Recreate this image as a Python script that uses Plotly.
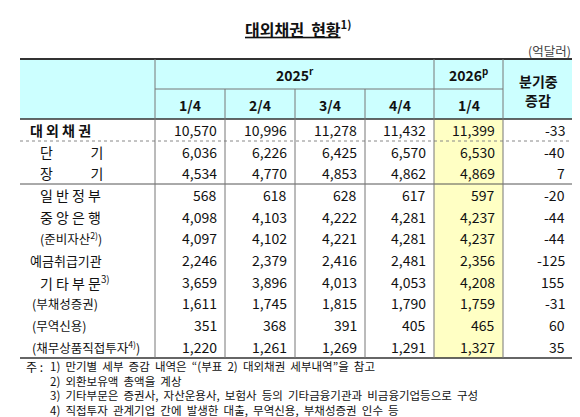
import plotly.graph_objects as go

# data
row_labels = ["대 외 채 권", "단            기", "장            기", "일 반 정 부", "중 앙 은 행",
              "(준비자산<sup>2)</sup>)", "예금취급기관", "기 타 부 문<sup>3)</sup>",
              "(부채성증권)", "(무역신용)", "(채무상품직접투자<sup>4)</sup>)"]
q1_2025 = [10570, 6036, 4534, 568, 4098, 4097, 2246, 3659, 1611, 351, 1220]
q2_2025 = [10996, 6226, 4770, 618, 4103, 4102, 2379, 3896, 1745, 368, 1261]
q3_2025 = [11278, 6425, 4853, 628, 4222, 4221, 2416, 4013, 1815, 391, 1269]
q4_2025 = [11432, 6570, 4862, 617, 4281, 4281, 2481, 4053, 1790, 405, 1291]
q1_2026 = [11399, 6530, 4869, 597, 4237, 4237, 2356, 4208, 1759, 465, 1327]
change = [-33, -40, 7, -20, -44, -44, -125, 155, -31, 60, 35]
quarters = ["1/4", "2/4", "3/4", "4/4", "1/4"]
notes = ["1)  만기별  세부  증감  내역은  “(부표  2)  대외채권  세부내역”을  참고",
         "2)  외환보유액  총액을  계상",
         "3)  기타부문은  증권사,  자산운용사,  보험사  등의  기타금융기관과  비금융기업등으로  구성",
         "4)  직접투자  관계기업  간에  발생한  대출,  무역신용,  부채성증권  인수  등"]

cols = [q1_2025, q2_2025, q3_2025, q4_2025, q1_2026, change]
xb = [12, 147, 217, 287, 357, 426, 495, 565]
row_y = [122, 144, 165, 187, 209, 230, 252, 274, 295, 317, 339]
label_x = [20, 30, 30, 30, 30, 30, 20, 30, 22, 22, 22]
label_size = [14, 14, 14, 14, 14, 12.5, 13, 14, 12.5, 12.5, 12.5]
FONT = "Noto Sans CJK KR"

fig = go.Figure()
shapes = []
ann = []

# fills
shapes.append(dict(type="rect", x0=xb[0], x1=xb[-1], y0=51, y1=111, fillcolor="#ccffff", line_width=0, layer="below"))
shapes.append(dict(type="rect", x0=xb[5], x1=xb[6], y0=111, y1=350, fillcolor="#ffffc4", line_width=0, layer="below"))

# horizontal lines
shapes.append(dict(type="line", x0=xb[0], x1=xb[-1], y0=51, y1=51, line=dict(color="#333", width=2)))
shapes.append(dict(type="line", x0=xb[1], x1=xb[6], y0=81, y1=81, line=dict(color="#777", width=1)))
shapes.append(dict(type="line", x0=xb[0], x1=xb[-1], y0=111, y1=111, line=dict(color="#333", width=1.5)))
shapes.append(dict(type="line", x0=xb[0], x1=xb[-1], y0=133, y1=133, line=dict(color="#888", width=1, dash="dot")))
shapes.append(dict(type="line", x0=xb[0], x1=xb[-1], y0=176, y1=176, line=dict(color="#555", width=1)))
shapes.append(dict(type="line", x0=xb[0], x1=xb[-1], y0=350, y1=350, line=dict(color="#333", width=1.5)))

# vertical lines
for i, x in enumerate(xb[1:-1], start=1):
    y0 = 81 if i in (2, 3, 4) else 51
    shapes.append(dict(type="line", x0=x, x1=x, y0=y0, y1=350, line=dict(color="#777", width=1)))

# header text
ann.append(dict(x=(xb[1] + xb[5]) / 2, y=66, text="<b>2025<sup>r</sup></b>", font=dict(size=14)))
ann.append(dict(x=(xb[5] + xb[6]) / 2, y=66, text="<b>2026<sup>p</sup></b>", font=dict(size=14)))
ann.append(dict(x=(xb[6] + xb[7]) / 2, y=73, text="<b>분기중</b>", font=dict(size=14)))
ann.append(dict(x=(xb[6] + xb[7]) / 2, y=92, text="<b>증감</b>", font=dict(size=14)))
for i, q in enumerate(quarters):
    ann.append(dict(x=(xb[i + 1] + xb[i + 2]) / 2, y=97, text="<b>" + q + "</b>", font=dict(size=14)))

# body
for r, lab in enumerate(row_labels):
    t = "<b>" + lab + "</b>" if r == 0 else lab
    ann.append(dict(x=label_x[r], y=row_y[r], text=t, xanchor="left", font=dict(size=label_size[r])))
    for c, vals in enumerate(cols):
        ann.append(dict(x=xb[c + 2] - 6, y=row_y[r], text=f"{vals[r]:,}", xanchor="right", font=dict(size=14)))

# title, unit, notes
ann.append(dict(x=290, y=20, text="<b><u>대외채권  현황</u><sup>1)</sup></b>", font=dict(size=16)))
ann.append(dict(x=565, y=42, text="(억달러)", xanchor="right", font=dict(size=12.5, color="#444")))
ann.append(dict(x=16, y=358, text="주 :", xanchor="left", font=dict(size=12)))
for i, n in enumerate(notes):
    ann.append(dict(x=40, y=358 + i * 14.5, text=n, xanchor="left", font=dict(size=11.5)))

for a in ann:
    a.setdefault("xanchor", "center")
    a["font"].setdefault("color", "#111")
    a.update(xref="x", yref="y", showarrow=False, yanchor="middle")

fig.update_layout(width=580, height=417, margin=dict(l=0, r=0, t=0, b=0),
                  paper_bgcolor="white", plot_bgcolor="white",
                  font=dict(family=FONT, size=13),
                  shapes=shapes, annotations=ann,
                  xaxis=dict(range=[0, 580], visible=False, fixedrange=True),
                  yaxis=dict(range=[417, 0], visible=False, fixedrange=True),
                  showlegend=False)
fig.write_html("out.html")
